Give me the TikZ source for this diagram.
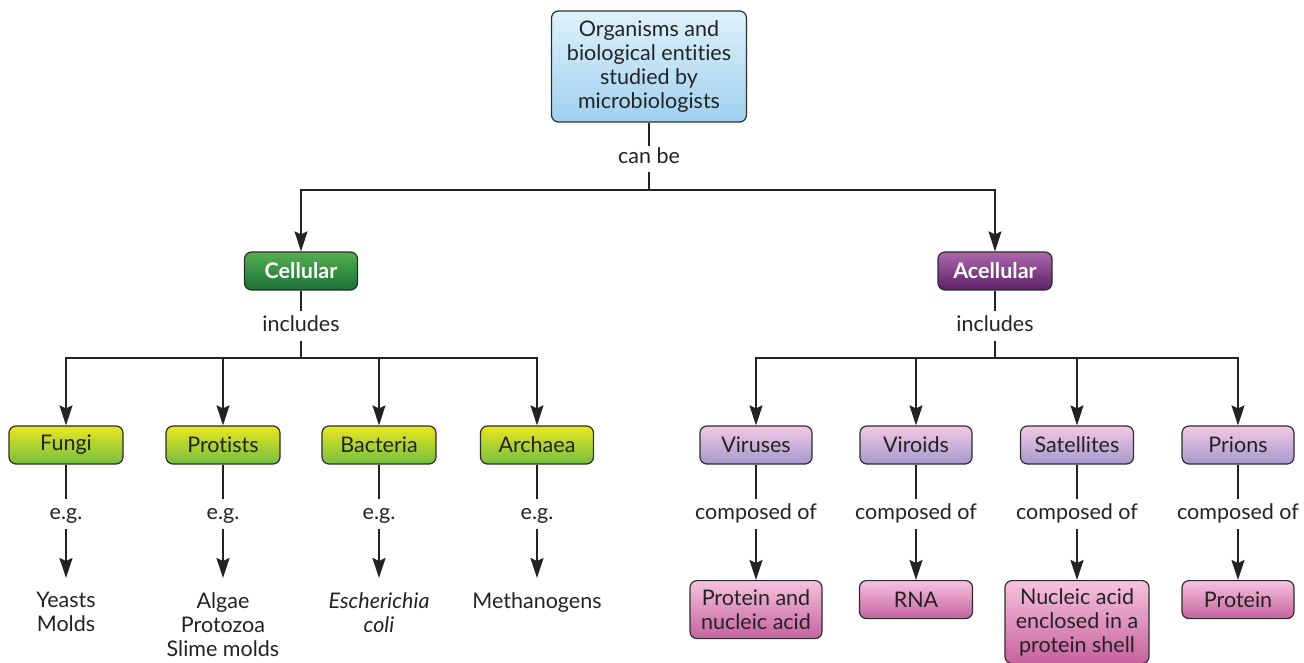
\documentclass[tikz,border=0pt]{standalone}
\usepackage{fontspec}
\setmainfont{Lato}[Ligatures={NoCommon}]
\usetikzlibrary{arrows.meta}
\definecolor{boxline}{RGB}{45,45,45}
\definecolor{txt}{RGB}{35,35,35}
\definecolor{blueT}{RGB}{222,242,252}
\definecolor{blueB}{RGB}{160,208,238}
\definecolor{greenT}{RGB}{84,176,78}
\definecolor{greenB}{RGB}{26,112,56}
\definecolor{yelT}{RGB}{234,232,30}
\definecolor{yelB}{RGB}{118,190,66}
\definecolor{purT}{RGB}{172,104,172}
\definecolor{purB}{RGB}{92,32,102}
\definecolor{lavT}{RGB}{244,200,228}
\definecolor{lavB}{RGB}{164,154,206}
\definecolor{pinkT}{RGB}{246,194,222}
\definecolor{pinkB}{RGB}{198,98,158}
\begin{document}
\begin{tikzpicture}[x=1pt,y={(0pt,-1pt)},
  font=\fontsize{21.5}{24}\selectfont, text=txt,
  box/.style={draw=boxline, line width=1.2pt, rounded corners=7pt, minimum height=38pt, inner sep=2pt, align=center},
  blueg/.style={top color=blueT, bottom color=blueB},
  greeng/.style={top color=greenT, bottom color=greenB, text=white, font=\fontsize{21.5}{24}\selectfont\bfseries},
  purg/.style={top color=purT, bottom color=purB, text=white, font=\fontsize{21.5}{24}\selectfont\bfseries},
  yelg/.style={top color=yelT, bottom color=yelB},
  lavg/.style={top color=lavT, bottom color=lavB},
  pinkg/.style={top color=pinkT, bottom color=pinkB},
  lbl/.style={inner xsep=0pt, inner ysep=6pt, text height=14pt, text depth=4pt},
  leaf/.style={anchor=north, inner xsep=2pt, inner ysep=14pt, align=center},
  ln/.style={line width=1.8pt, draw=txt},
  arr/.style={ln, -{Stealth[length=20pt,width=13pt,inset=3pt]}}
]
\useasboundingbox (0,0) rectangle (1304,663);

% root
\node[box, blueg, minimum width=195pt, minimum height=111pt] (root) at (649,66.5)
  {Organisms and\\biological entities\\studied by\\microbiologists};
\node[lbl, inner ysep=4pt] (canbe) at (649,159) {can be};
\coordinate (j0) at (649,190);
\node[box, greeng, minimum width=113pt] (cell) at (301,271) {Cellular};
\node[box, purg, minimum width=114pt] (acell) at (995,271) {Acellular};
\draw[ln] (root) -- (canbe);
\draw[ln] (canbe) -- (j0);
\draw[arr] (j0) -| (cell);
\draw[arr] (j0) -| (acell);

% cellular branch
\node[lbl] (inc1) at (301,326) {includes};
\coordinate (j1) at (301,358);
\draw[ln] (cell) -- (inc1);
\draw[ln] (inc1) -- (j1);
\node[box, yelg, minimum width=114pt] (fungi) at (66,445) {Fungi};
\node[box, yelg, minimum width=114pt] (prot) at (223,445) {Protists};
\node[box, yelg, minimum width=114pt] (bact) at (379,445) {Bacteria};
\node[box, yelg, minimum width=113pt] (arch) at (537,445) {Archaea};
\foreach \n in {fungi,prot,bact,arch} \draw[arr] (j1) -| (\n);

\node[lbl] (eg1) at (66,514) {e.g.};
\node[lbl] (eg2) at (223,514) {e.g.};
\node[lbl] (eg3) at (379,514) {e.g.};
\node[lbl] (eg4) at (537,514) {e.g.};
\node[leaf] (ex1) at (66,578) {Yeasts\\Molds};
\node[leaf] (ex2) at (223,578) {Algae\\Protozoa\\Slime molds};
\node[leaf] (ex3) at (379,578) {\itshape Escherichia\\\itshape coli};
\node[leaf] (ex4) at (537,578) {Methanogens};
\draw[ln] (fungi) -- (eg1); \draw[arr] (eg1) -- (ex1);
\draw[ln] (prot) -- (eg2);  \draw[arr] (eg2) -- (ex2);
\draw[ln] (bact) -- (eg3);  \draw[arr] (eg3) -- (ex3);
\draw[ln] (arch) -- (eg4);  \draw[arr] (eg4) -- (ex4);

% acellular branch
\node[lbl] (inc2) at (995,326) {includes};
\coordinate (j2) at (995,358);
\draw[ln] (acell) -- (inc2);
\draw[ln] (inc2) -- (j2);
\node[box, lavg, minimum width=112pt] (vir) at (756,445) {Viruses};
\node[box, lavg, minimum width=112pt] (vird) at (916,445) {Viroids};
\node[box, lavg, minimum width=113pt] (sat) at (1077,445) {Satellites};
\node[box, lavg, minimum width=112pt] (pri) at (1238,445) {Prions};
\foreach \n in {vir,vird,sat,pri} \draw[arr] (j2) -| (\n);

\node[lbl] (co1) at (756,514) {composed of};
\node[lbl] (co2) at (916,514) {composed of};
\node[lbl] (co3) at (1077,514) {composed of};
\node[lbl] (co4) at (1238,514) {composed of};
\node[box, pinkg, anchor=north, minimum width=132pt, minimum height=58pt] (pn) at (756,580) {Protein and\\nucleic acid};
\node[box, pinkg, anchor=north, minimum width=113pt] (rna) at (916,580) {RNA};
\node[box, pinkg, anchor=north, minimum width=144pt, minimum height=83pt] (nas) at (1077,580) {Nucleic acid\\enclosed in a\\protein shell};
\node[box, pinkg, anchor=north, minimum width=112pt] (pr) at (1238,580) {Protein};
\draw[ln] (vir) -- (co1);  \draw[arr] (co1) -- (pn);
\draw[ln] (vird) -- (co2); \draw[arr] (co2) -- (rna);
\draw[ln] (sat) -- (co3);  \draw[arr] (co3) -- (nas);
\draw[ln] (pri) -- (co4);  \draw[arr] (co4) -- (pr);
\end{tikzpicture}
\end{document}
